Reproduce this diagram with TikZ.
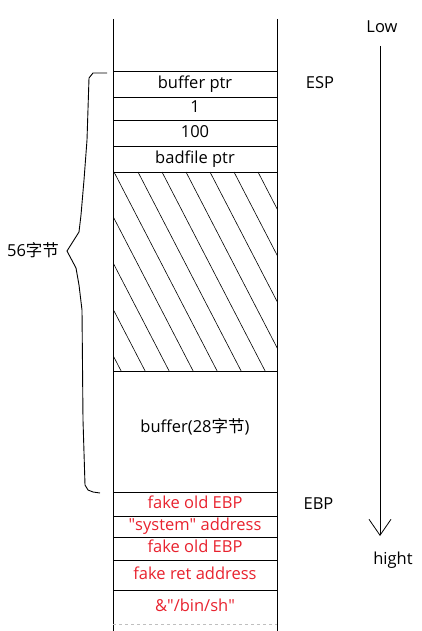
\documentclass[tikz,border=0pt]{standalone}
\usepackage{fontspec}
\setmainfont{Open Sans}
\newfontfamily\cjk{Noto Sans CJK SC}
\usepackage{xcolor}
\usetikzlibrary{arrows.meta}
\definecolor{fakered}{RGB}{232,34,46}
\tikzset{
  cell/.style={font=\fontsize{16.5}{20}\selectfont, inner sep=0pt, text height=12pt, text depth=3.5pt},
  fake/.style={cell, text=fakered},
  hatch/.style={line width=0.6pt}
}

\begin{document}
\begin{tikzpicture}[x=1pt,y=-1pt,line width=0.8pt]
\useasboundingbox (0,0) rectangle (421,631);
% stack column
\draw (113,19) -- (113,631);
\draw (277,19) -- (277,631);
\foreach \y in {71,97,120,146,172,371,492,516,537,560,590}
  \draw (113,\y) -- (277,\y);
\draw [dashed, black!25] (113,624) -- (277,624);
% hatched part
\begin{scope}
\clip (113,172) rectangle (277,371);
\foreach \k in {-4,...,6}
  \draw [hatch] (114+24*\k,172) -- ++(114,220);
\end{scope}
% cells
\node [cell] (bufptr) at (195,84) {buffer ptr};
\node [cell] (one) at (195,108.5) {1};
\node [cell] (hundred) at (195,133) {100};
\node [cell] (badptr) at (195,159) {badfile ptr};
\node [cell] (buf) at (195,428) {buffer(28{\cjk 字节})};
\node [fake] (oldebp) at (195,504) {fake old EBP};
\node [fake] (sysaddr) at (195,526.5) {\textquotedbl system\textquotedbl\ address};
\node [fake] (oldebpb) at (195,548.5) {fake old EBP};
\node [fake] (retaddr) at (195,575) {fake ret address};
\node [fake] (binsh) at (195,607) {\&\textquotedbl/bin/sh\textquotedbl};
% registers
\node [cell] (esp) at (320,84) {ESP};
\node [cell] (ebp) at (318.5,505) {EBP};
% direction
\node [cell] (low) at (382,28.5) {Low};
\node [cell] (high) at (393,560) {hight};
\coordinate (lowend) at (380,46);
\coordinate (highend) at (380,536);
\draw [-{Straight Barb[length=16pt,width=22pt]}] (lowend) -- (highend);
% brace
\draw [line width=0.9pt] (107,73) -- (93,73) -- (89,78) -- (87,140) -- (84,180) -- (81,215) -- (79,232) -- (67,251)
  -- (76,268) -- (79,285) -- (82,310) -- (83,420) -- (85,485) -- (88,490) -- (93,492) -- (100,493);
\node [cell] (size) at (33,252) {56{\cjk 字节}};
\end{tikzpicture}
\end{document}
